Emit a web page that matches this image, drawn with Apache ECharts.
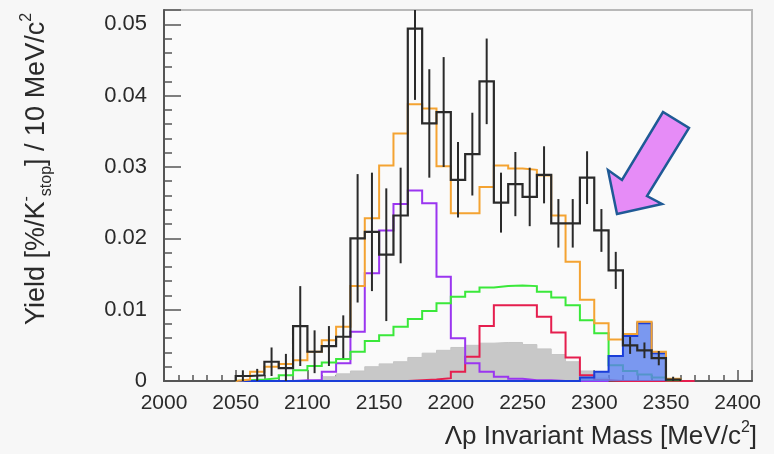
<!DOCTYPE html>
<html>
<head>
<meta charset="utf-8">
<script src="https://cdn.jsdelivr.net/npm/echarts@6/dist/echarts.min.js"></script>
<style>
html,body{margin:0;padding:0;background:#f7f7f7;}
#c{width:774px;height:454px;}
</style>
</head>
<body>
<div id="c"></div>
<script>
// ---- data (bin width 10 MeV/c^2; arrays start at the given left bin edge) ----
const binWidth = 10;
const xTickLabels = [2000, 2050, 2100, 2150, 2200, 2250, 2300, 2350, 2400];
const yTickLabels = [0, 0.01, 0.02, 0.03, 0.04, 0.05];

const dataStart = 2050;
const dataVals = [0.0007,0.0008,0.0027,0.0018,0.0077,0.0041,0.0049,0.0062,0.0200,0.0209,
  0.0177,0.0232,0.0494,0.0361,0.0377,0.0282,0.0318,0.0420,0.0250,0.0276,
  0.0258,0.0289,0.0221,0.0221,0.0285,0.0211,0.0155,0.0050,0.0043,0.0032,0.0002];
const dataErrs = [0.0008,0.0009,0.0020,0.0020,0.0056,0.0030,0.0028,0.0030,0.0090,0.0083,
  0.0093,0.0067,0.0100,0.0076,0.0077,0.0053,0.0058,0.0060,0.0042,0.0045,
  0.0041,0.0040,0.0034,0.0034,0.0037,0.0030,0.0026,0.0012,0.0011,0.0010,0.0004];

const totalStart = 2050;
const totalVals = [0.0002,0.0013,0.0020,0.0024,0.0029,0.0041,0.0057,0.0076,0.0133,0.0228,
  0.0302,0.0347,0.0388,0.0382,0.0301,0.0235,0.0235,0.0272,0.0302,0.0298,
  0.0296,0.0288,0.0232,0.0167,0.0114,0.0081,0.0058,0.0066,0.0083,0.0041,0.0003];

const greenStart = 2050;
const greenVals = [0.0001,0.0002,0.0004,0.0008,0.0015,0.0021,0.0026,0.0031,0.0041,0.0056,
  0.0064,0.0076,0.0087,0.0098,0.0109,0.0118,0.0125,0.0131,0.0133,0.0134,
  0.0133,0.0125,0.0117,0.0106,0.0085,0.0067,0.0022,0.0014,0.0009,0.0005,0.0001];

const purpleStart = 2090;
const purpleVals = [0.0001,0.0001,0.0013,0.0025,0.0069,0.0151,0.0211,0.0248,0.0267,0.0249,
  0.0146,0.0060,0.0025,0.0013,0.0006,0.0003,0.0001,0.0001,0,0,0,0];

const redStart = 2170;
const redVals = [0.0001,0.0002,0.0004,0.0013,0.0034,0.0077,0.0106,0.0106,0.0106,0.0090,
  0.0068,0.0033,0.0008,0.0001,0,0,0,0,0,0];

const grayStart = 2100;
const grayVals = [0.0002,0.0006,0.0010,0.0014,0.0020,0.0024,0.0027,0.0033,0.0039,0.0043,
  0.0047,0.0050,0.0053,0.0054,0.0054,0.0051,0.0045,0.0037,0.0027,0.0014,0.0004];

const blueStart = 2050;
const blueVals = [0,0,0,0,0,0,0,0,0,0,
  0,0,0,0,0,0,0,0,0,0,
  0,0,0,0,0.0005,0.0013,0.0035,0.0063,0.0081,0.0039];

// ---- helpers ----
function stepData(start, vals){
  const pts = [[start, 0]];
  vals.forEach((v, i) => pts.push([start + i * binWidth, v]));
  pts.push([start + vals.length * binWidth, 0]);
  return pts;
}
const FONT = '"Liberation Sans", Arial, Helvetica, sans-serif';

function histSeries(name, start, vals, color, width, fill, z){
  const s = {
    name, type:'line', step:'end', data: stepData(start, vals),
    symbol:'none', clip:true, silent:true, z,
    lineStyle:{color, width, join:'miter'},
    xAxisIndex:0, yAxisIndex:0
  };
  if (fill) s.areaStyle = {color: fill, opacity: 1};
  return s;
}

const errData = dataVals.map((v, i) => [dataStart + i * binWidth + binWidth / 2, v - dataErrs[i], v + dataErrs[i]]);

const chart = echarts.init(document.getElementById('c'), null, {renderer:'canvas'});
chart.setOption({
  animation:false,
  backgroundColor:'#f7f7f7',
  grid:{left:164, right:22, top:10, bottom:73, show:true, borderColor:'#b8b8b8', borderWidth:2, backgroundColor:'#fafafa'},
  xAxis:[
    {type:'value', min:2000, max:2410, interval:10, position:'bottom',
     axisLine:{show:true, onZero:false, lineStyle:{color:'#555', width:2}},
     axisTick:{inside:true, length:6, lineStyle:{color:'#555', width:1.5}},
     axisLabel:{show:false}, splitLine:{show:false}},
    {type:'value', min:2000, max:2410, interval:50, position:'bottom',
     axisLine:{show:false, onZero:false},
     axisTick:{inside:true, length:11, lineStyle:{color:'#555', width:1.5}},
     axisLabel:{fontSize:21, color:'#2a2a2a', fontFamily:FONT, margin:12,
       formatter: v => xTickLabels.indexOf(Math.round(v)) >= 0 && Math.abs(v - Math.round(v)) < 1e-6 ? String(Math.round(v)) : ''},
     splitLine:{show:false}}
  ],
  yAxis:[
    {type:'value', min:0, max:0.052, interval:0.002, position:'left',
     axisLine:{show:true, onZero:false, lineStyle:{color:'#555', width:2}},
     axisTick:{inside:true, length:8, lineStyle:{color:'#555', width:1.5}},
     axisLabel:{show:false}, splitLine:{show:false}},
    {type:'value', min:0, max:0.052, interval:0.01, position:'left', offset:0,
     axisLine:{show:false, onZero:false},
     axisTick:{inside:true, length:17, lineStyle:{color:'#555', width:1.5}},
     axisLabel:{fontSize:22, color:'#2a2a2a', fontFamily:FONT, margin:17,
       formatter: v => {
         const hit = yTickLabels.find(t => Math.abs(t - v) < 1e-9);
         if (hit === undefined) return '';
         return hit === 0 ? '0' : hit.toFixed(2);
       }},
     splitLine:{show:false}}
  ],
  series:[
    histSeries('gray', grayStart, grayVals, '#c4c4c4', 1, '#c8c8c8', 2),
    histSeries('red', redStart, redVals, '#e51e4e', 2, null, 3),
    histSeries('purple', purpleStart, purpleVals, '#9a35f0', 2, null, 4),
    histSeries('green', greenStart, greenVals, '#3ae83a', 2, null, 5),
    Object.assign(histSeries('blue', blueStart, blueVals, '#1a3ed8', 2, null, 6), {areaStyle:{color:'#5a80ee', opacity:0.8}}),
    histSeries('total', totalStart, totalVals, '#f4a332', 2, null, 7),
    histSeries('data', dataStart, dataVals, '#2a2a2a', 2.2, null, 8),
    {type:'custom', name:'errors', data: errData, clip:true, silent:true, z:9,
     xAxisIndex:0, yAxisIndex:0, encode:{x:0, y:[1,2]},
     renderItem:(params, api) => {
       const x = api.value(0);
       const p1 = api.coord([x, api.value(1)]);
       const p2 = api.coord([x, api.value(2)]);
       return {type:'line', shape:{x1:p1[0], y1:p1[1], x2:p2[0], y2:p2[1]},
               style:{stroke:'#2a2a2a', lineWidth:2}};
     }}
  ],
  graphic:[
    {type:'text', x:37, y:169, rotation:Math.PI/2, z:20,
     style:{
       text:'{a|Yield [%/K}{sup|-}{sub|stop}{a|] / 10 MeV/c}{sup|2}',
       align:'center', verticalAlign:'middle',
       rich:{
         a:{fontSize:27, fontFamily:FONT, fill:'#2a2a2a', lineHeight:36},
         sup:{fontSize:16, fontFamily:FONT, fill:'#2a2a2a', lineHeight:16, verticalAlign:'top'},
         sub:{fontSize:16, fontFamily:FONT, fill:'#2a2a2a', lineHeight:16, verticalAlign:'bottom'}
       }
     }},
    {type:'text', x:757, y:437, z:20,
     style:{
       text:'{a|Λp Invariant Mass [MeV/c}{sup|2}{a|]}',
       align:'right', verticalAlign:'middle',
       rich:{
         a:{fontSize:26, fontFamily:FONT, fill:'#2a2a2a', lineHeight:34},
         sup:{fontSize:16, fontFamily:FONT, fill:'#2a2a2a', lineHeight:16, verticalAlign:'top'}
       }
     }},
    {type:'polygon', z:30,
     shape:{points:[[617,214],[608,170],[622,180],[663,112],[689,128],[647,196],[662,204]]},
     style:{fill:'#e68cf7', stroke:'#1f5a96', lineWidth:2.5, lineJoin:'miter'}}
  ]
});
</script>
</body>
</html>
